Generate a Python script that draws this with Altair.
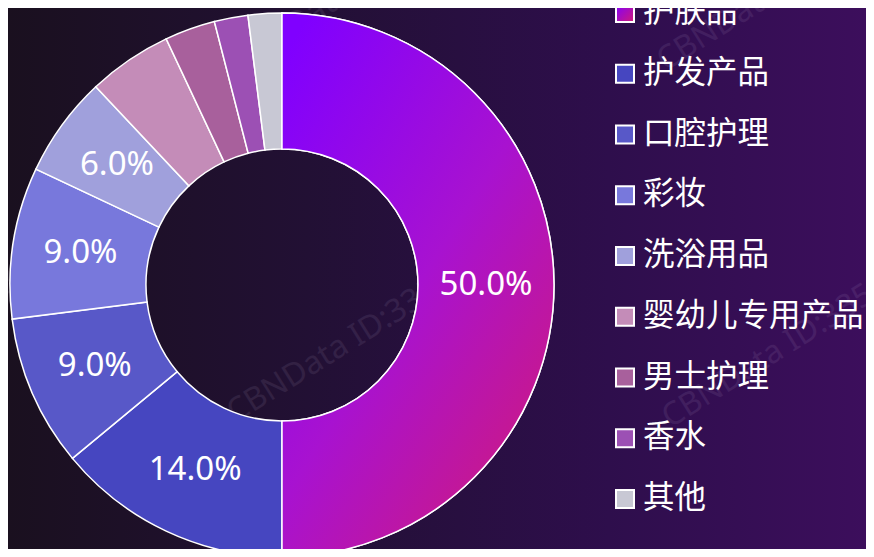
import math
import altair as alt
import pandas as pd

# ---- data ----
categories = ["护肤品", "护发产品", "口腔护理", "彩妆", "洗浴用品",
              "婴幼儿专用产品", "男士护理", "香水", "其他"]
shares = [50, 14, 9, 9, 6, 5, 3, 2, 2]
labels = ["50.0%", "14.0%", "9.0%", "9.0%", "6.0%", "", "", "", ""]
colors = ["#8a06f0", "#4646c0", "#5858c8", "#7878dc", "#a0a0dc",
          "#c48cb8", "#a8609c", "#9c50b4", "#c8c8d4"]

df = pd.DataFrame({"category": categories, "share": shares,
                   "label": labels, "order": list(range(len(categories)))})

# ---- layout (page has an 8px margin) ----
W, H = 858, 541
CX, CY = 274, 277
R_OUT, R_IN = 272, 136

theta_scale = alt.Scale(domain=[0, 100], range=[0, 2 * math.pi])
color_scale = alt.Scale(domain=categories, range=colors)

slice_grad = alt.Gradient(
    gradient="linear",
    stops=[alt.GradientStop(color="#8000ff", offset=0),
           alt.GradientStop(color="#a812d0", offset=0.5),
           alt.GradientStop(color="#d21a78", offset=1)],
    x1=0.1, y1=0, x2=0.9, y2=1)

square_grad = alt.Gradient(
    gradient="linear",
    stops=[alt.GradientStop(color="#8000ff", offset=0),
           alt.GradientStop(color="#d21a78", offset=1)],
    x1=0, y1=0, x2=1, y2=1)

bg_grad = alt.Gradient(
    gradient="linear",
    stops=[alt.GradientStop(color="#1a101f", offset=0),
           alt.GradientStop(color="#221034", offset=0.35),
           alt.GradientStop(color="#2e0e4c", offset=0.7),
           alt.GradientStop(color="#3c0e5c", offset=1)],
    x1=0, y1=0, x2=1, y2=0)

background = alt.Chart(pd.DataFrame({"a": [0]})).mark_rect(fill=bg_grad).encode(
    x=alt.value(0), x2=alt.value(W), y=alt.value(0), y2=alt.value(H))

# faint watermarks (decoration only)
wm_layers = []
for (wx, wy) in [(225, 55), (652, 55), (222, 407), (657, 412), (-213, 407)]:
    wm_layers.append(
        alt.Chart(pd.DataFrame({"a": [0]})).mark_text(
            text="CBNData ID:3353137", angle=328, align="left", baseline="middle",
            fontSize=32, font="Noto Sans", color="#d8c8e8", opacity=0.09
        ).encode(x=alt.value(wx), y=alt.value(wy))
    )

base = alt.Chart(df).transform_window(
    end="sum(share)", sort=[alt.SortField("order")], frame=[None, 0]
).transform_calculate(
    start="datum.end - datum.share",
    mid="datum.end - datum.share / 2"
)

arcs = base.mark_arc(innerRadius=R_IN, outerRadius=R_OUT,
                     stroke="white", strokeWidth=1.5).encode(
    x=alt.value(CX), y=alt.value(CY),
    theta=alt.Theta("start:Q", scale=theta_scale),
    theta2="end:Q",
    color=alt.Color("category:N", scale=color_scale, legend=None),
)

grad_arc = base.transform_filter(alt.datum.order == 0).mark_arc(
    innerRadius=R_IN, outerRadius=R_OUT, fill=slice_grad,
    stroke="white", strokeWidth=1.5).encode(
    x=alt.value(CX), y=alt.value(CY),
    theta=alt.Theta("start:Q", scale=theta_scale),
    theta2="end:Q",
)

pct = base.mark_text(radius=(R_IN + R_OUT) / 2, fontSize=33, font="Noto Sans",
                     color="white", align="center", baseline="middle").encode(
    x=alt.value(CX), y=alt.value(CY),
    theta=alt.Theta("mid:Q", scale=theta_scale),
    text="label:N",
)

leg_y = alt.Y("order:Q", scale=alt.Scale(domain=[0, 8], range=[5, 491]), axis=None)

leg_sq = alt.Chart(df).mark_square(size=324, stroke="white", strokeWidth=2,
                                   filled=True, opacity=1).encode(
    x=alt.value(617), y=leg_y,
    color=alt.Color("category:N", scale=color_scale, legend=None),
)

leg_sq_grad = alt.Chart(df).transform_filter(alt.datum.order == 0).mark_square(
    size=324, stroke="white", strokeWidth=2, fill=square_grad, opacity=1).encode(
    x=alt.value(617), y=leg_y,
)

leg_txt = alt.Chart(df).mark_text(align="left", baseline="middle", fontSize=31.5,
                                  font="Noto Sans CJK SC", color="white").encode(
    x=alt.value(635), y=leg_y, text="category:N",
)

chart = alt.layer(
    background, *wm_layers, arcs, grad_arc, pct, leg_sq, leg_sq_grad, leg_txt
).properties(
    width=W, height=H, padding=0, autosize=alt.AutoSizeParams(type="none"),
    background="#1a101f"
).configure_view(stroke=None)

chart.save("out.html", embed_options={"renderer": "svg", "actions": False})
